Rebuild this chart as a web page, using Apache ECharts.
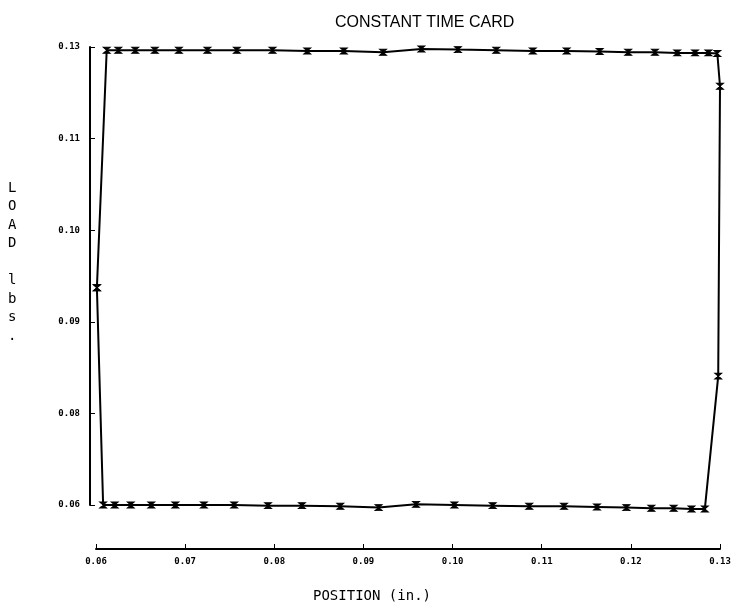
<!DOCTYPE html>
<html>
<head>
<meta charset="utf-8">
<script src="https://cdn.jsdelivr.net/npm/echarts@6/dist/echarts.min.js"></script>
<style>
  html, body { margin: 0; padding: 0; background: #fff; }
  #chart { width: 737px; height: 612px; }
</style>
</head>
<body>
<div id="chart"></div>
<script>
// tick positions and the labels printed at them
let xTicks = [0.06, 0.07, 0.08, 0.09, 0.10, 0.11, 0.12, 0.13];
let xLabels = ["0.06", "0.07", "0.08", "0.09", "0.10", "0.11", "0.12", "0.13"];
let yTicks = [0.06, 0.074, 0.088, 0.102, 0.116, 0.13];
let yLabels = ["0.06", "0.08", "0.09", "0.10", "0.11", "0.13"];

// left side point (between bottom-left and top-left corners)
let leftX = [0.0601];
let leftY = [0.0932];

// top stroke, left to right
let topX = [0.0612, 0.0625, 0.0644, 0.0666, 0.0693, 0.0725, 0.0758, 0.0798, 0.0837, 0.0878, 0.0922, 0.0965,
  0.1006, 0.1049, 0.1090, 0.1128, 0.1165, 0.1197, 0.1227, 0.1252, 0.1272, 0.1287, 0.1297];
let topY = [0.1295, 0.1295, 0.1295, 0.1295, 0.1295, 0.1295, 0.1295, 0.1295, 0.1294, 0.1294, 0.1292, 0.1297,
  0.1296, 0.1295, 0.1294, 0.1294, 0.1293, 0.1292, 0.1292, 0.1291, 0.1291, 0.1291, 0.1290];

// right side, top to bottom
let rightX = [0.1300, 0.1298];
let rightY = [0.1240, 0.0797];

// bottom stroke, left to right
let bottomX = [0.0608, 0.0621, 0.0639, 0.0662, 0.0689, 0.0721, 0.0755, 0.0793, 0.0831, 0.0874, 0.0917,
  0.0959, 0.1002, 0.1045, 0.1086, 0.1125, 0.1162, 0.1195, 0.1223, 0.1248, 0.1268, 0.1283];
let bottomY = [0.0600, 0.0600, 0.0600, 0.0600, 0.0600, 0.0600, 0.0600, 0.0599, 0.0599, 0.0598, 0.0596,
  0.0601, 0.0600, 0.0599, 0.0598, 0.0598, 0.0597, 0.0596, 0.0595, 0.0595, 0.0594, 0.0594];

// build the closed loop
let loop = [];
leftX.forEach((x, i) => loop.push([x, leftY[i]]));
topX.forEach((x, i) => loop.push([x, topY[i]]));
rightX.forEach((x, i) => loop.push([x, rightY[i]]));
for (let i = bottomX.length - 1; i >= 0; i--) loop.push([bottomX[i], bottomY[i]]);
loop.push([leftX[0], leftY[0]]);

let labelFont = {
  color: "#000",
  fontFamily: "DejaVu Sans Mono",
  fontWeight: "bold",
  fontSize: 9,
};

let option = {
  animation: false,
  backgroundColor: "#fff",
  title: {
    text: "CONSTANT TIME CARD",
    left: 330,
    top: 10,
    textStyle: {
      fontFamily: "Liberation Sans",
      fontSize: 16,
      fontWeight: "normal",
      color: "#000",
    },
  },
  grid: { left: 96, right: 17, top: 47, bottom: 107 },
  xAxis: {
    type: "value",
    min: 0.06,
    max: 0.13,
    offset: 44,
    splitLine: { show: false },
    axisLine: { show: true, lineStyle: { color: "#000", width: 2 } },
    axisTick: { show: true, inside: true, length: 5, customValues: xTicks, lineStyle: { color: "#000", width: 1 } },
    axisLabel: {
      customValues: xTicks,
      margin: 8,
      ...labelFont,
      formatter: function (v) {
        let i = xTicks.findIndex((t) => Math.abs(t - v) < 1e-6);
        return i >= 0 ? xLabels[i] : "";
      },
    },
  },
  yAxis: {
    type: "value",
    min: 0.06,
    max: 0.13,
    offset: 6,
    splitLine: { show: false },
    axisLine: { show: true, lineStyle: { color: "#000", width: 2 } },
    axisTick: { show: true, inside: true, length: 5, customValues: yTicks, lineStyle: { color: "#000", width: 1 } },
    axisLabel: {
      customValues: yTicks,
      margin: 10,
      ...labelFont,
      formatter: function (v) {
        let i = yTicks.findIndex((t) => Math.abs(t - v) < 1e-6);
        return i >= 0 ? yLabels[i] : "";
      },
    },
  },
  graphic: [
    {
      type: "text",
      left: 8,
      top: 179,
      style: {
        text: "L\nO\nA\nD\n\nl\nb\ns\n.",
        fontFamily: "DejaVu Sans Mono",
        fontSize: 14,
        lineHeight: 18.5,
        fill: "#000",
      },
    },
    {
      type: "text",
      left: 313,
      top: 589,
      style: {
        text: "POSITION (in.)",
        fontFamily: "DejaVu Sans Mono",
        fontSize: 14,
        fill: "#000",
      },
    },
  ],
  series: [
    {
      type: "line",
      data: loop,
      clip: false,
      symbol: "path://M0,0 L10,0 L0,10 L10,10 Z",
      symbolSize: [7, 6],
      showAllSymbol: true,
      itemStyle: { color: "#000", borderColor: "#000", borderWidth: 1 },
      lineStyle: { color: "#000", width: 2 },
    },
  ],
};

let myChart = echarts.init(document.getElementById("chart"));
myChart.setOption(option);
</script>
</body>
</html>
